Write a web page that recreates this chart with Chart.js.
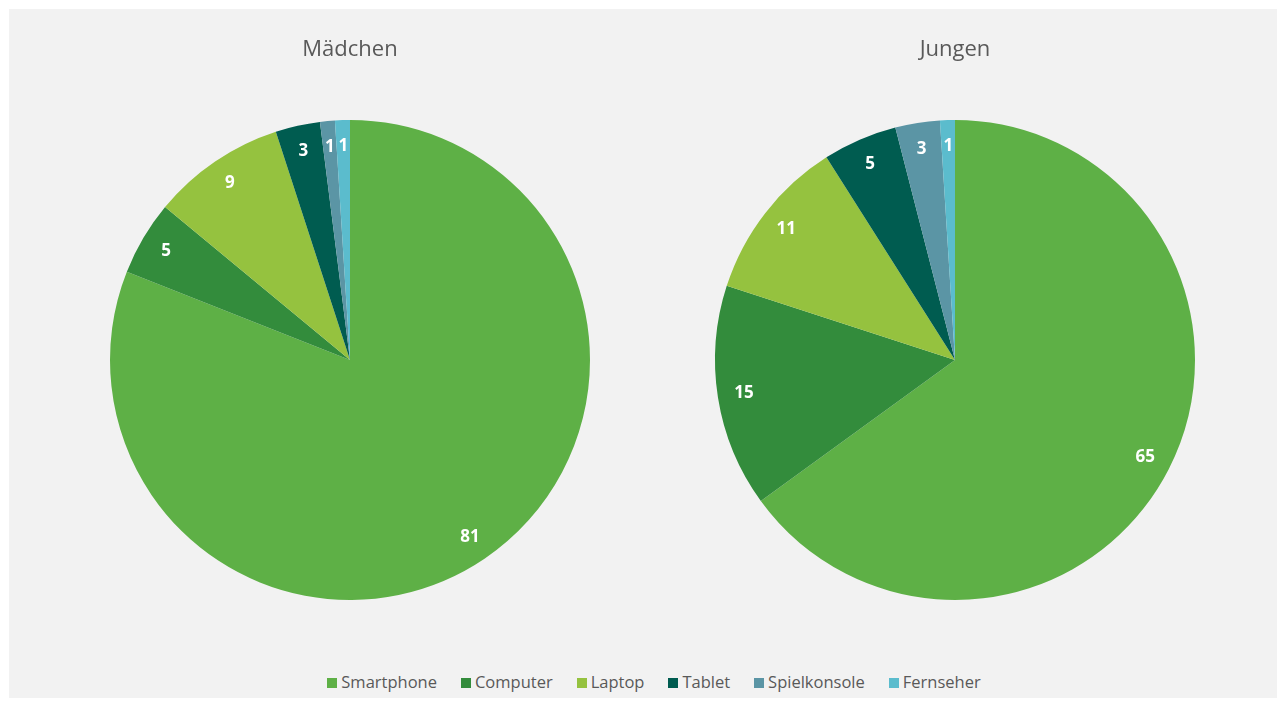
<!DOCTYPE html>
<html>
<head>
<meta charset="utf-8">
<script src="https://cdn.jsdelivr.net/npm/chart.js@4"></script>
<style>
  html, body { margin: 0; padding: 0; background: #fff; }
  #panel { position: absolute; left: 9px; top: 9px; width: 1268px; height: 689px; background: #f2f2f2; }
  .pie { position: absolute; top: 11px; width: 600px; height: 600px; }
  #legend { position: absolute; left: 22px; right: 0; top: 661px; text-align: center;
            font-family: "Open Sans", sans-serif; font-size: 16.5px; color: #595959; }
  #legend span.item { display: inline-block; margin: 0 12px; }
  #legend span.box { display: inline-block; width: 10px; height: 10px; margin-right: 4px; vertical-align: 0px; }
</style>
</head>
<body>
<div id="panel">
  <div class="pie" style="left:41px"><canvas id="girls"></canvas></div>
  <div class="pie" style="left:646px"><canvas id="boys"></canvas></div>
  <div id="legend"></div>
</div>
<script>
const devices = ["Smartphone", "Computer", "Laptop", "Tablet", "Spielkonsole", "Fernseher"];
const girlsValues = [81, 5, 9, 3, 1, 1];
const boysValues = [65, 15, 11, 5, 3, 1];
const deviceColors = ["#5eb046", "#338c3c", "#95c23f", "#005c50", "#5b95a5", "#5bbccd"];

// value labels near the outer edge of each slice
const sliceLabels = {
    id: "sliceLabels",
    afterDatasetsDraw(chart) {
        const ctx = chart.ctx;
        const meta = chart.getDatasetMeta(0);
        ctx.save();
        ctx.fillStyle = "#ffffff";
        ctx.font = "bold 17px 'Open Sans', sans-serif";
        ctx.textAlign = "center";
        ctx.textBaseline = "middle";
        meta.data.forEach((arc, i) => {
            const mid = (arc.startAngle + arc.endAngle) / 2;
            const r = arc.outerRadius * 0.89;
            ctx.fillText(chart.data.datasets[0].data[i], arc.x + Math.cos(mid) * r, arc.y + Math.sin(mid) * r);
        });
        ctx.restore();
    }
};

const makePie = (canvasId, title, values) => {
    return new Chart(document.getElementById(canvasId), {
        type: "pie",
        data: {
            labels: devices,
            datasets: [{ data: values, backgroundColor: deviceColors, borderWidth: 0 }]
        },
        options: {
            responsive: true,
            maintainAspectRatio: false,
            animation: false,
            layout: { padding: { top: 0, bottom: 20 } },
            plugins: {
                legend: { display: false },
                tooltip: { enabled: false },
                title: {
                    display: true,
                    text: title,
                    color: "#595959",
                    font: { family: "'Open Sans', sans-serif", size: 22, weight: "normal" },
                    padding: { top: 17, bottom: 56.6 }
                }
            }
        },
        plugins: [sliceLabels]
    });
};

makePie("girls", "Mädchen", girlsValues);
makePie("boys", "Jungen", boysValues);

const legend = document.getElementById("legend");
devices.forEach((name, i) => {
    const item = document.createElement("span");
    item.className = "item";
    const box = document.createElement("span");
    box.className = "box";
    box.style.background = deviceColors[i];
    item.appendChild(box);
    item.appendChild(document.createTextNode(name));
    legend.appendChild(item);
});
</script>
</body>
</html>
